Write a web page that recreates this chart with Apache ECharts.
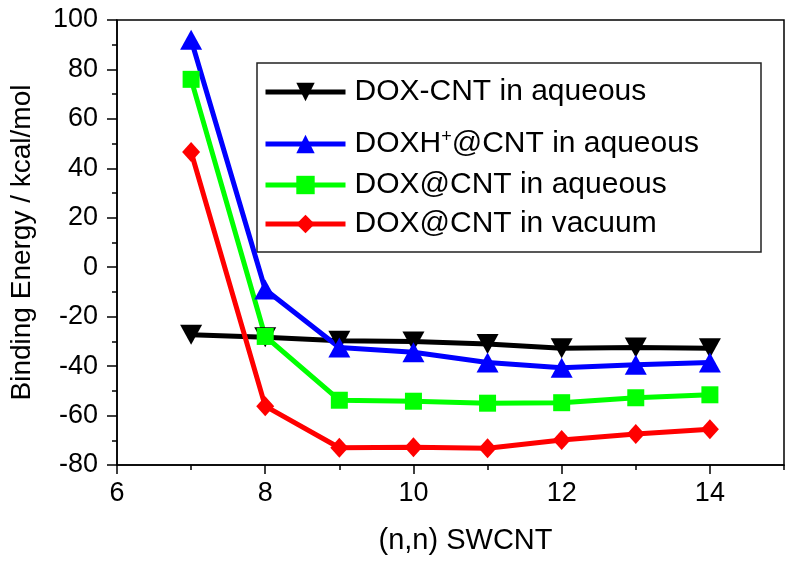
<!DOCTYPE html>
<html>
<head>
<meta charset="utf-8">
<script src="https://cdn.jsdelivr.net/npm/echarts@6/dist/echarts.min.js"></script>
<style>html,body{margin:0;padding:0;background:#fff;}#c{width:800px;height:565px;}</style>
</head>
<body>
<div id="c"></div>
<script>
const xValues = [7, 8, 9, 10, 11, 12, 13, 14];
const doxCntAqueous = [-27.3, -28.3, -29.7, -30.0, -31.1, -32.8, -32.5, -32.8];
const doxhCntAqueous = [92.0, -9.0, -32.5, -34.4, -38.5, -40.7, -39.4, -38.5];
const doxAtCntAqueous = [76.0, -28.0, -53.8, -54.2, -55.0, -54.8, -52.8, -51.6];
const doxAtCntVacuum = [46.6, -56.2, -73.0, -72.8, -73.2, -69.9, -67.5, -65.5];
const seriesNames = ['DOX-CNT in aqueous', 'DOXH+@CNT in aqueous', 'DOX@CNT in aqueous', 'DOX@CNT in vacuum'];
const xMajorTicks = [6, 8, 10, 12, 14];

const FONT = 'Liberation Sans, Arial, sans-serif';
const pairs = ys => xValues.map((x, i) => [x, ys[i]]);

const chart = echarts.init(document.getElementById('c'), null, {renderer: 'canvas'});

function mkSeries(name, ys, color, symbol, size, rotate) {
  return {
    name: name, type: 'line', data: pairs(ys),
    xAxisIndex: 0, yAxisIndex: 0,
    symbol: symbol, symbolSize: size, symbolRotate: rotate || 0,
    showAllSymbol: true,
    lineStyle: {color: color, width: 5},
    itemStyle: {color: color, borderWidth: 0},
    emphasis: {disabled: true},
    animation: false
  };
}

const legendCenters = [93, 144, 186, 225];
function mkLegend(i) {
  return {
    data: [seriesNames[i]],
    left: 263, top: legendCenters[i] - 16,
    padding: 0,
    itemWidth: 80, itemHeight: 23,
    selectedMode: false,
    lineStyle: {width: 5},
    formatter: function (n) {
      if (n === 'DOXH+@CNT in aqueous') return '{a|DOXH}{s|+}{a|@CNT in aqueous}';
      return '{a|' + n + '}';
    },
    textStyle: {
      fontFamily: FONT, fontSize: 30, color: '#000', padding: [0, 0, 0, 4],
      rich: {
        a: {fontFamily: FONT, fontSize: 30, color: '#000', lineHeight: 32},
        s: {fontFamily: FONT, fontSize: 18, color: '#000', lineHeight: 32, verticalAlign: 'top', padding: [0, 0, 6, 0]}
      }
    }
  };
}

const option = {
  backgroundColor: '#fff',
  animation: false,
  grid: {left: 113, right: 16, top: 20, bottom: 100, show: true, borderColor: '#000', borderWidth: 1.5, backgroundColor: 'transparent'},
  graphic: [{
    type: 'rect', z: 2,
    shape: {x: 257, y: 63, width: 504, height: 189},
    style: {fill: '#fff', stroke: '#222', lineWidth: 1.5}
  }],
  legend: [0, 1, 2, 3].map(mkLegend),
  xAxis: [{
    type: 'value', min: 6, max: 15, interval: 1,
    position: 'bottom',
    axisLine: {show: true, onZero: false, lineStyle: {color: '#000', width: 1.5}},
    axisTick: {show: true, inside: false, length: 5, lineStyle: {color: '#000', width: 1.5}},
    axisLabel: {show: false},
    splitLine: {show: false},
    name: '(n,n) SWCNT', nameLocation: 'middle', nameGap: 61,
    nameTextStyle: {fontFamily: FONT, fontSize: 29, color: '#000', padding: [0, 0, 0, 30]}
  }, {
    type: 'value', min: 6, max: 15, interval: 2,
    position: 'bottom',
    axisLine: {show: false, onZero: false},
    axisTick: {show: true, inside: false, length: 9, customValues: xMajorTicks, lineStyle: {color: '#000', width: 1.5}},
    axisLabel: {show: true, customValues: xMajorTicks, margin: 15, fontFamily: FONT, fontSize: 27, color: '#000'},
    splitLine: {show: false}
  }],
  yAxis: [{
    type: 'value', min: -80, max: 100, interval: 20,
    axisLine: {show: true, onZero: false, lineStyle: {color: '#000', width: 1.5}},
    axisTick: {show: true, inside: false, length: 10, lineStyle: {color: '#000', width: 1.5}},
    minorTick: {show: true, splitNumber: 2, length: 5, lineStyle: {color: '#000', width: 1.5}},
    axisLabel: {margin: 19, fontFamily: FONT, fontSize: 27, color: '#000'},
    splitLine: {show: false},
    name: 'Binding Energy / kcal/mol', nameLocation: 'middle', nameGap: 81,
    nameTextStyle: {fontFamily: FONT, fontSize: 28, color: '#000'}
  }],
  series: [
    mkSeries(seriesNames[0], doxCntAqueous, '#000000', 'triangle', [22, 20], 180),
    mkSeries(seriesNames[1], doxhCntAqueous, '#0000ff', 'triangle', [22, 20], 0),
    mkSeries(seriesNames[2], doxAtCntAqueous, '#00ff00', 'rect', [17, 17], 0),
    mkSeries(seriesNames[3], doxAtCntVacuum, '#ff0000', 'diamond', [18, 20], 0)
  ]
};
chart.setOption(option);
</script>
</body>
</html>
